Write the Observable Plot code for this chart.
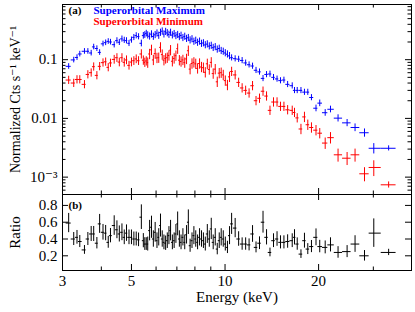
<!DOCTYPE html>
<html>
<head>
<meta charset="utf-8">
<script src="https://cdn.jsdelivr.net/npm/d3@7"></script>
<script src="https://cdn.jsdelivr.net/npm/@observablehq/plot@0.6"></script>
<style>
  html, body { margin: 0; padding: 0; background: #fff; }
  #wrap { position: relative; width: 415px; height: 312px; overflow: hidden; }
  #wrap svg { position: absolute; left: 0; }
</style>
</head>
<body>
<div id="wrap"></div>
<script>
// ---- data ----
const energy = [
  3.14, 3.26, 3.34, 3.41, 3.53, 3.62, 3.71, 3.78, 3.87, 3.95, 4.05, 4.13, 4.21, 4.28, 4.40, 4.49, 4.57, 4.66, 4.74, 4.82, 4.91, 5.00, 5.09, 5.18, 5.27, 5.38, 5.46, 5.52, 5.58,
  5.64, 5.72, 5.80, 5.88, 5.96, 6.04, 6.12, 6.20, 6.28, 6.36, 6.44, 6.52, 6.60, 6.68, 6.77, 6.86, 6.95, 7.04, 7.13, 7.22, 7.32, 7.42, 7.52, 7.62, 7.72, 7.83, 7.94, 8.05, 8.16, 8.28, 8.40, 8.52, 8.64, 8.77, 8.90, 9.03, 9.16, 9.30, 9.44, 9.58, 9.72, 9.87, 10.02, 10.18, 10.34,
  10.5, 10.78, 11.06, 11.35, 11.65, 11.95, 12.26, 12.58, 12.91, 13.25, 13.6, 13.95, 14.32, 14.7, 15.08, 15.47, 15.9,
  16.45, 16.73, 17.07, 17.55, 18.01, 18.46, 18.97, 19.62, 20.17, 21.0, 21.84, 23.1, 24.7, 26.2, 28.1, 30.1, 33.6
];
const maxRate = [
  0.077, 0.099, 0.109, 0.125, 0.139, 0.139, 0.130, 0.165, 0.155, 0.133, 0.186, 0.195, 0.205, 0.200, 0.180, 0.211, 0.198, 0.226, 0.215, 0.211, 0.190, 0.217, 0.240, 0.257, 0.247, 0.190, 0.257, 0.265, 0.280,
  0.262, 0.250, 0.272, 0.248, 0.265, 0.282, 0.258, 0.290, 0.305, 0.272, 0.300, 0.285, 0.268, 0.290, 0.262, 0.276, 0.255, 0.266, 0.245, 0.258, 0.236, 0.248, 0.228, 0.236, 0.215, 0.225, 0.204, 0.212, 0.196, 0.205, 0.188, 0.192, 0.178, 0.184, 0.170, 0.174, 0.160, 0.165, 0.150, 0.155, 0.142, 0.138, 0.130, 0.124, 0.116,
  0.108, 0.104, 0.102, 0.097, 0.088, 0.082, 0.078, 0.066, 0.062, 0.048, 0.056, 0.057, 0.050, 0.047, 0.044, 0.045, 0.038,
  0.036, 0.030, 0.030, 0.030, 0.028, 0.028, 0.0227, 0.0149, 0.0182, 0.0125, 0.0143, 0.0101, 0.0084, 0.0070, 0.0057, 0.0031, 0.0031
];
const minRate = [
  0.045, 0.040, 0.046, 0.046, 0.038, 0.056, 0.060, 0.076, 0.054, 0.077, 0.089, 0.092, 0.074, 0.088, 0.101, 0.108, 0.091, 0.108, 0.090, 0.099, 0.080, 0.091, 0.096, 0.103, 0.096, 0.125, 0.098, 0.090, 0.095,
  0.089, 0.125, 0.147, 0.099, 0.127, 0.107, 0.108, 0.162, 0.122, 0.098, 0.105, 0.108, 0.118, 0.145, 0.094, 0.105, 0.117, 0.154, 0.098, 0.093, 0.099, 0.089, 0.103, 0.142, 0.069, 0.086, 0.090, 0.085, 0.071, 0.086, 0.075, 0.073, 0.061, 0.085, 0.068, 0.090, 0.058, 0.069, 0.042, 0.059, 0.060, 0.055, 0.044, 0.037, 0.051,
  0.063, 0.055, 0.041, 0.033, 0.030, 0.027, 0.036, 0.020, 0.022, 0.029, 0.024, 0.0137, 0.019, 0.019, 0.016, 0.016, 0.014,
  0.0137, 0.0126, 0.0102, 0.0066, 0.0106, 0.0078, 0.0070, 0.0063, 0.0056, 0.0038, 0.0047, 0.0024, 0.0021, 0.0024, 0.00114, 0.00146, 0.00074
];
const ratio = [
  0.59, 0.40, 0.42, 0.37, 0.27, 0.40, 0.46, 0.46, 0.35, 0.58, 0.48, 0.47, 0.36, 0.44, 0.56, 0.51, 0.46, 0.48, 0.42, 0.47, 0.42, 0.42, 0.40, 0.40, 0.39, 0.66, 0.38, 0.34, 0.34,
  0.34, 0.50, 0.54, 0.40, 0.48, 0.38, 0.42, 0.56, 0.40, 0.36, 0.35, 0.38, 0.44, 0.50, 0.36, 0.38, 0.46, 0.58, 0.40, 0.36, 0.42, 0.36, 0.45, 0.60, 0.32, 0.38, 0.44, 0.40, 0.36, 0.42, 0.40, 0.38, 0.34, 0.46, 0.40, 0.52, 0.36, 0.42, 0.28, 0.38, 0.42, 0.40, 0.34, 0.30, 0.44,
  0.58, 0.53, 0.40, 0.34, 0.34, 0.33, 0.46, 0.30, 0.35, 0.60, 0.42, 0.24, 0.38, 0.40, 0.36, 0.36, 0.37,
  0.38, 0.42, 0.34, 0.22, 0.38, 0.28, 0.31, 0.42, 0.31, 0.30, 0.33, 0.24, 0.25, 0.34, 0.20, 0.47, 0.24
];
// fractional 1-sigma errors
const maxErr = [
  0.11, 0.11, 0.11, 0.11, 0.11, 0.11, 0.11, 0.11, 0.11, 0.11, 0.11, 0.11, 0.11, 0.11, 0.12, 0.12, 0.12, 0.12, 0.12, 0.12, 0.12, 0.12, 0.12, 0.12, 0.12, 0.13, 0.13, 0.13, 0.13,
  0.14, 0.14, 0.14, 0.14, 0.14, 0.14, 0.14, 0.14, 0.14, 0.14, 0.14, 0.14, 0.14, 0.14, 0.14, 0.14, 0.14, 0.14, 0.14, 0.14, 0.14, 0.14, 0.14, 0.14, 0.14, 0.14, 0.14, 0.14, 0.14, 0.14, 0.14, 0.14, 0.14, 0.14, 0.14, 0.14, 0.14, 0.14, 0.14, 0.14, 0.14, 0.14, 0.14, 0.14, 0.14,
  0.12, 0.12, 0.12, 0.12, 0.12, 0.12, 0.12, 0.12, 0.12, 0.12, 0.12, 0.12, 0.12, 0.12, 0.12, 0.12, 0.12,
  0.12, 0.12, 0.12, 0.12, 0.12, 0.12, 0.12, 0.13, 0.13, 0.13, 0.13, 0.14, 0.14, 0.15, 0.16, 0.2, 0.1
];
const minErr = [
  0.16, 0.16, 0.16, 0.16, 0.16, 0.16, 0.16, 0.16, 0.16, 0.16, 0.16, 0.16, 0.16, 0.16, 0.17, 0.17, 0.17, 0.17, 0.17, 0.17, 0.17, 0.17, 0.17, 0.17, 0.17, 0.18, 0.18, 0.18, 0.18,
  0.2, 0.2, 0.2, 0.2, 0.2, 0.2, 0.2, 0.2, 0.2, 0.2, 0.2, 0.2, 0.2, 0.2, 0.2, 0.2, 0.2, 0.2, 0.2, 0.2, 0.2, 0.2, 0.2, 0.2, 0.2, 0.2, 0.2, 0.2, 0.2, 0.2, 0.2, 0.2, 0.2, 0.2, 0.2, 0.2, 0.2, 0.2, 0.2, 0.2, 0.2, 0.2, 0.2, 0.2, 0.2,
  0.18, 0.18, 0.18, 0.18, 0.18, 0.18, 0.18, 0.18, 0.18, 0.18, 0.18, 0.18, 0.18, 0.18, 0.18, 0.18, 0.18,
  0.18, 0.18, 0.18, 0.2, 0.2, 0.2, 0.2, 0.2, 0.2, 0.22, 0.22, 0.25, 0.25, 0.25, 0.27, 0.3, 0.12
];

// axes
const xTickLabels = [3, 5, 10, 20];
const xMinorTicks = [4, 6, 7, 8, 9, 30];
const yTopMajor = [0.001, 0.01, 0.1];
const yTopLabels = ["10⁻³", "0.01", "0.1"];
const yTopMinor = [6e-4, 7e-4, 8e-4, 9e-4, 0.002, 0.003, 0.004, 0.005, 0.006, 0.007, 0.008, 0.009,
                   0.02, 0.03, 0.04, 0.05, 0.06, 0.07, 0.08, 0.09, 0.2, 0.3, 0.4, 0.5, 0.6, 0.7, 0.8];
const yRatioMajor = [0.2, 0.4, 0.6, 0.8];
const yRatioLabels = ["0.2", "0.4", "0.6", "0.8"];

const seriesNames = ["Superorbital Maximum", "Superorbital Minimum"];
const seriesColors = ["#0000ff", "#ff0000"];

// ---- derived tables ----
const n = energy.length;
const edges = [];
edges.push(energy[0] / Math.sqrt(energy[1] / energy[0]));
for (let i = 1; i < n; i++) edges.push(Math.sqrt(energy[i - 1] * energy[i]));
edges.push(energy[n - 1] * Math.sqrt(energy[n - 1] / energy[n - 2]));

const maxData = energy.map((e, i) => ({e, lo: edges[i], hi: edges[i + 1], v: maxRate[i], d: maxRate[i] * maxErr[i]}));
const minData = energy.map((e, i) => ({e, lo: edges[i], hi: edges[i + 1], v: minRate[i], d: minRate[i] * minErr[i]}));
const ratData = energy.map((e, i) => ({e, lo: edges[i], hi: edges[i + 1], v: ratio[i],
  d: ratio[i] * Math.hypot(maxErr[i], minErr[i])}));

const FONT = "'Liberation Serif', 'Times New Roman', 'DejaVu Serif', serif";
const W = 415, ML = 62, MR = 4;
const FW = W - ML - MR;
const xDomain = [3, 39.8];

function ticksX(major, minor, FH) {
  return [
    Plot.ruleX(major, {x: d => d, insetBottom: FH - 6, stroke: "#000"}),
    Plot.ruleX(major, {x: d => d, insetTop: FH - 6, stroke: "#000"}),
    Plot.ruleX(minor, {x: d => d, insetBottom: FH - 3.5, stroke: "#000"}),
    Plot.ruleX(minor, {x: d => d, insetTop: FH - 3.5, stroke: "#000"})
  ];
}
function ticksY(major, minor) {
  return [
    Plot.ruleY(major, {y: d => d, insetRight: FW - 6, stroke: "#000"}),
    Plot.ruleY(major, {y: d => d, insetLeft: FW - 6, stroke: "#000"}),
    Plot.ruleY(minor, {y: d => d, insetRight: FW - 3.5, stroke: "#000"}),
    Plot.ruleY(minor, {y: d => d, insetLeft: FW - 3.5, stroke: "#000"})
  ];
}
function errorMarks(data, color) {
  return [
    Plot.ruleY(data, {y: "v", x1: "lo", x2: "hi", stroke: color, strokeWidth: 1}),
    Plot.ruleX(data, {x: "e", y1: d => d.v - d.d, y2: d => d.v + d.d, stroke: color, strokeWidth: 1})
  ];
}
const T = {fill: "#000", lineAnchor: "middle"};

// ---- top panel ----
const FH1 = 190;
const topPanel = Plot.plot({
  width: W, height: 196,
  marginTop: 4, marginBottom: 2, marginLeft: ML, marginRight: MR,
  x: {type: "log", domain: xDomain, axis: null},
  y: {type: "log", domain: [5.06e-4, 0.87], axis: null},
  style: {fontFamily: FONT, background: "transparent", overflow: "visible"},
  marks: [
    ...errorMarks(maxData, seriesColors[0]),
    ...errorMarks(minData, seriesColors[1]),
    ...ticksX(xTickLabels, xMinorTicks, FH1),
    ...ticksY(yTopMajor, yTopMinor),
    Plot.frame({stroke: "#000"}),
    Plot.text(yTopMajor, {...T, y: d => d, text: (d, i) => yTopLabels[i], frameAnchor: "left", dx: -5, textAnchor: "end", fontSize: 15}),
    Plot.text(["Normalized Cts s⁻¹ keV⁻¹"], {...T, frameAnchor: "left", dx: -47, rotate: -90, textAnchor: "middle", fontSize: 14}),
    Plot.text(["(a)"], {...T, frameAnchor: "top-left", dx: 6, dy: 6, textAnchor: "start", fontSize: 11, fontWeight: "bold"}),
    Plot.text([seriesNames[0]], {...T, frameAnchor: "top-left", dx: 31, dy: 6, textAnchor: "start", fontSize: 11, fontWeight: "bold", fill: seriesColors[0]}),
    Plot.text([seriesNames[1]], {...T, frameAnchor: "top-left", dx: 31, dy: 17, textAnchor: "start", fontSize: 11, fontWeight: "bold", fill: seriesColors[1]})
  ]
});
topPanel.style.top = "0px";

// ---- ratio panel ----
const FH2 = 76;
const ratioPanel = Plot.plot({
  width: W, height: 120,
  marginTop: 2, marginBottom: 42, marginLeft: ML, marginRight: MR,
  x: {type: "log", domain: xDomain, axis: null},
  y: {type: "linear", domain: [0.025, 0.93], axis: null},
  style: {fontFamily: FONT, background: "transparent", overflow: "visible"},
  marks: [
    ...errorMarks(ratData, "#000"),
    ...ticksX(xTickLabels, xMinorTicks, FH2),
    ...ticksY(yRatioMajor, []),
    Plot.frame({stroke: "#000"}),
    Plot.text(yRatioMajor, {...T, y: d => d, text: (d, i) => yRatioLabels[i], frameAnchor: "left", dx: -5, textAnchor: "end", fontSize: 15}),
    Plot.text(xTickLabels, {...T, x: d => d, text: d => String(d), frameAnchor: "bottom", dy: 11, textAnchor: "middle", fontSize: 15}),
    Plot.text(["Energy (keV)"], {...T, frameAnchor: "bottom", dy: 27, textAnchor: "middle", fontSize: 15}),
    Plot.text(["Ratio"], {...T, frameAnchor: "left", dx: -47, rotate: -90, textAnchor: "middle", fontSize: 15}),
    Plot.text(["(b)"], {...T, frameAnchor: "top-left", dx: 6, dy: 11, textAnchor: "start", fontSize: 11, fontWeight: "bold"})
  ]
});
ratioPanel.style.top = "192px";

const wrap = document.getElementById("wrap");
wrap.appendChild(topPanel);
wrap.appendChild(ratioPanel);
</script>
</body>
</html>
